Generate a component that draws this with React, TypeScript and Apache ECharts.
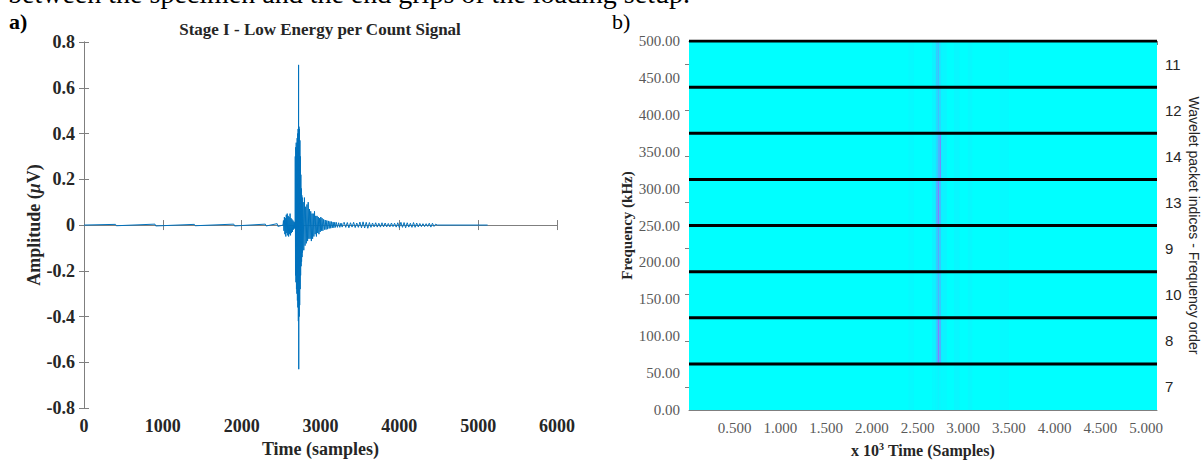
import React, { useEffect, useRef } from "react";
import * as echarts from "echarts";

// ---------- Data: panel a) time signal (sample, amplitude µV) ----------
const quietLead: [number, number][] = [
  [0, 0], [400, 0.003], [410, -0.003], [900, 0.004], [910, -0.004], [1400, 0.003], [1410, -0.003],
  [1900, 0.004], [1910, -0.004], [2300, 0.004], [2310, -0.004], [2450, 0.006], [2460, -0.006], [2525, 0],
];
const precursor: [number, number][] = [
  [2530, 0.02], [2536, -0.025], [2542, 0.035], [2548, -0.04], [2554, 0.03], [2560, -0.05], [2566, 0.045],
  [2572, -0.035], [2578, 0.05], [2584, -0.045], [2590, 0.04], [2596, -0.05], [2602, 0.035], [2608, -0.04],
  [2614, 0.05], [2620, -0.045], [2626, 0.03], [2632, -0.035], [2638, 0.025], [2644, -0.03], [2650, 0.02],
  [2656, -0.02], [2662, 0.015], [2668, -0.015], [2674, 0.012], [2678, -0.015],
];
const mainBurst: [number, number][] = [
  [2680, 0.3], [2683, -0.22], [2686, 0.34], [2689, -0.25], [2692, 0.36], [2695, -0.28], [2698, 0.33],
  [2701, -0.3], [2704, 0.38], [2707, -0.33], [2710, 0.4], [2713, -0.36], [2716, 0.42], [2719, -0.42],
  [2722, 0.7], [2724, -0.63], [2727, 0.43], [2730, -0.4], [2733, 0.42], [2736, -0.35], [2739, 0.37],
  [2742, -0.28], [2745, 0.3], [2748, -0.22], [2751, 0.22], [2754, -0.18], [2757, 0.16], [2760, -0.16],
  [2763, 0.13], [2766, -0.14], [2769, 0.12],
];
const coda: [number, number][] = [
  [2772, -0.12], [2780, 0.1], [2788, -0.11], [2796, 0.12], [2804, -0.09], [2812, 0.08], [2820, -0.08],
  [2828, 0.09], [2836, -0.07], [2844, 0.1], [2852, -0.06], [2860, 0.07], [2868, -0.06], [2876, 0.06],
  [2884, -0.07], [2892, 0.05], [2900, -0.06], [2908, 0.05], [2916, -0.05], [2924, 0.06], [2932, -0.04],
  [2940, 0.04], [2948, -0.05], [2956, 0.04], [2964, -0.035], [2972, 0.035], [2980, -0.04], [2988, 0.03],
  [2996, -0.03], [3004, 0.035], [3012, -0.025], [3020, 0.03], [3030, -0.025], [3040, 0.025], [3050, -0.02],
  [3060, 0.022], [3070, -0.02], [3080, 0.02], [3090, -0.018], [3100, 0.018], [3110, -0.015], [3120, 0.016],
  [3130, -0.014], [3140, 0.015], [3150, -0.012], [3160, 0.013], [3170, -0.012], [3180, 0.012], [3190, -0.01],
  [3200, 0.012], [3215, -0.01], [3230, 0.01], [3245, -0.01], [3260, 0.009], [3275, -0.009], [3290, 0.008],
];
const tail: [number, number][] = [
  [3300, 0.012], [3320, -0.01], [3340, 0.011], [3360, -0.012], [3380, 0.01], [3400, -0.009], [3420, 0.012],
  [3440, -0.011], [3460, 0.009], [3480, -0.01], [3500, 0.013], [3520, -0.012], [3540, 0.014], [3560, -0.013],
  [3580, 0.012], [3600, -0.014], [3620, 0.011], [3640, -0.01], [3660, 0.009], [3680, -0.008], [3700, 0.01],
  [3720, -0.009], [3740, 0.008], [3760, -0.009], [3780, 0.01], [3800, -0.008], [3820, 0.009], [3840, -0.008],
  [3860, 0.007], [3880, -0.008], [3900, 0.009], [3920, -0.007], [3940, 0.008], [3960, -0.009], [3980, 0.01],
  [4000, -0.011], [4020, 0.012], [4040, -0.01], [4060, 0.011], [4080, -0.012], [4100, 0.01], [4120, -0.009],
  [4140, 0.008], [4160, -0.01], [4180, 0.011], [4200, -0.01], [4220, 0.009], [4240, -0.008], [4260, 0.007],
  [4280, -0.007], [4300, 0.006], [4320, -0.007], [4340, 0.006], [4360, -0.006], [4380, 0.008], [4400, -0.009],
  [4420, 0.008], [4440, -0.006], [4460, 0.004], [4480, 0], [5120, 0],
];

// ---------- Data: panel b) wavelet packet spectrogram ----------
const totalSamples = 5120;
const bandEdges = [0, 62.5, 125, 187.5, 250, 312.5, 375, 437.5, 500]; // kHz
const bandLabels = ["7", "8", "10", "9", "13", "14", "12", "11"]; // bottom -> top
const stripeBins: [number, number][] = [[2660, 2700], [2700, 2720], [2720, 2740], [2740, 2760], [2760, 2820]];
const stripeLevels: number[][] = [
  [0.02, 0.03, 0.05, 0.03, 0.02],
  [0.05, 0.2, 0.5, 0.3, 0.05],
  [0.05, 0.15, 0.3, 0.2, 0.04],
  [0.05, 0.2, 0.35, 0.2, 0.04],
  [0.06, 0.3, 0.5, 0.25, 0.05],
  [0.05, 0.15, 0.3, 0.45, 0.06],
  [0.04, 0.15, 0.25, 0.15, 0.04],
  [0.05, 0.2, 0.25, 0.1, 0.03],
];
const faintColumns: [number, number, number][] = [
  [2400, 2460, 0.02], [2900, 2960, 0.03], [3050, 3100, 0.025], [3400, 3500, 0.02],
];

// ---------- Text ----------
const leftTitle = "Stage I - Low Energy per Count Signal";
const cutCaption = "between the specimen and the end grips of the loading setup.";

const serif = "'Liberation Serif', 'Times New Roman', serif";
const sans = "'Liberation Sans', Arial, sans-serif";

function coolColor(v: number): string {
  const r = Math.round(255 * v);
  const g = Math.round(255 * (1 - v));
  return `rgb(${r},${g},255)`;
}

export default function App() {
  const ref = useRef<HTMLDivElement>(null);
  useEffect(() => {
    document.body.style.margin = "0";
    if (!ref.current) return;
    const chart = echarts.init(ref.current, null, { renderer: "svg" });

    const signal = [...quietLead, ...precursor, ...mainBurst, ...coda, ...tail];

    const cells: number[][] = [];
    for (let b = 0; b < 8; b++) {
      cells.push([0, totalSamples, bandEdges[b], bandEdges[b + 1], 0]);
      faintColumns.forEach(([t0, t1, v]) => cells.push([t0, t1, bandEdges[b], bandEdges[b + 1], v]));
      stripeBins.forEach(([t0, t1], i) => cells.push([t0, t1, bandEdges[b], bandEdges[b + 1], stripeLevels[b][i]]));
    }

    const axisGray = "#7f7f7f";
    const lineSeries = bandEdges.slice(1).map((f) => ({
      type: "line",
      xAxisIndex: 2,
      yAxisIndex: 2,
      data: [[0, f], [totalSamples, f]],
      symbol: "none",
      silent: true,
      lineStyle: { color: "#000", width: 3 },
      z: 5,
    }));

    chart.setOption({
      animation: false,
      graphic: [
        { type: "text", x: 8, y: -21, style: { text: cutCaption, font: `28px ${serif}`, fill: "#000" } },
        { type: "text", x: 9, y: 10, style: { text: "a)", font: `bold 22px ${serif}`, fill: "#000" } },
        { type: "text", x: 612, y: 10, style: { text: "b)", font: `22px ${serif}`, fill: "#000" } },
        { type: "text", x: 320, y: 21, style: { text: leftTitle, font: `bold 17px ${serif}`, fill: "#262626", align: "center" } },
      ],
      grid: [
        { left: 84, top: 42, width: 473, height: 369 },
        { left: 689, top: 41, width: 468, height: 370 },
      ],
      xAxis: [
        {
          gridIndex: 0, type: "value", min: 0, max: 6000, interval: 1000, position: "bottom",
          axisLine: { lineStyle: { color: axisGray } },
          axisTick: { inside: true, length: 5, lineStyle: { color: axisGray } },
          splitLine: { show: false },
          axisLabel: { color: "#262626", fontFamily: serif, fontWeight: "bold", fontSize: 18, margin: 9, formatter: (v: number) => String(v) },
          name: "Time (samples)", nameLocation: "middle", nameGap: 30,
          nameTextStyle: { color: "#262626", fontFamily: serif, fontWeight: "bold", fontSize: 18 },
        },
        {
          gridIndex: 0, type: "value", min: 0, max: 6000, interval: 1000, position: "top",
          axisLine: { lineStyle: { color: axisGray } },
          axisTick: { inside: true, length: 5, lineStyle: { color: axisGray } },
          splitLine: { show: false }, axisLabel: { show: false },
        },
        {
          gridIndex: 1, type: "value", min: 0, max: totalSamples, interval: 500, position: "bottom",
          axisLine: { lineStyle: { color: axisGray } },
          axisTick: { inside: true, length: 4, lineStyle: { color: axisGray } },
          splitLine: { show: false },
          axisLabel: {
            color: "#595959", fontFamily: serif, fontSize: 15, margin: 10,
            showMinLabel: false, showMaxLabel: false,
            formatter: (v: number) => (v / 1000).toFixed(3),
          },
          name: "x 10{sup|3} Time (Samples)", nameLocation: "middle", nameGap: 31,
          nameTextStyle: {
            color: "#262626", fontFamily: serif, fontWeight: "bold", fontSize: 16,
            rich: { sup: { fontFamily: serif, fontWeight: "bold", fontSize: 10, verticalAlign: "top", padding: [0, 0, 8, 0] } },
          },
        },
        {
          gridIndex: 1, type: "value", min: 0, max: totalSamples, interval: 500, position: "top",
          axisLine: { lineStyle: { color: axisGray } },
          axisTick: { inside: true, length: 4, lineStyle: { color: axisGray } },
          splitLine: { show: false }, axisLabel: { show: false },
        },
      ],
      yAxis: [
        {
          gridIndex: 0, type: "value", min: -0.8, max: 0.8, interval: 0.2, position: "left",
          axisLine: { show: true, lineStyle: { color: axisGray } },
          axisTick: { show: true, inside: true, length: 5, lineStyle: { color: axisGray } },
          splitLine: { show: false },
          axisLabel: {
            color: "#262626", fontFamily: serif, fontWeight: "bold", fontSize: 18, margin: 9,
            formatter: (v: number) => (Math.abs(v) < 1e-9 ? "0" : v.toFixed(1)),
          },
          name: "Amplitude ({i|μ}V)", nameLocation: "middle", nameGap: 38, nameRotate: 90,
          nameTextStyle: {
            color: "#262626", fontFamily: serif, fontWeight: "bold", fontSize: 18,
            rich: { i: { fontFamily: serif, fontStyle: "italic", fontWeight: "bold", fontSize: 18 } },
          },
        },
        {
          gridIndex: 0, type: "value", min: -0.8, max: 0.8, interval: 0.2, position: "right",
          axisLine: { show: true, lineStyle: { color: axisGray } },
          axisTick: { show: true, inside: true, length: 5, lineStyle: { color: axisGray } },
          splitLine: { show: false }, axisLabel: { show: false },
        },
        {
          gridIndex: 1, type: "value", min: 0, max: 500, interval: 50, position: "left",
          axisLine: { show: true, lineStyle: { color: axisGray } },
          axisTick: { show: true, inside: true, length: 4, lineStyle: { color: axisGray } },
          splitLine: { show: false },
          axisLabel: { color: "#595959", fontFamily: serif, fontSize: 15, margin: 9, formatter: (v: number) => v.toFixed(2) },
          name: "Frequency (kHz)", nameLocation: "middle", nameGap: 53, nameRotate: 90,
          nameTextStyle: { color: "#262626", fontFamily: serif, fontWeight: "bold", fontSize: 15 },
        },
        {
          gridIndex: 1, type: "category", data: bandLabels, position: "right", boundaryGap: true,
          axisLine: { show: true, lineStyle: { color: axisGray } },
          axisTick: { show: true, inside: true, length: 4, alignWithLabel: true, lineStyle: { color: axisGray } },
          splitLine: { show: false },
          axisLabel: { color: "#262626", fontFamily: sans, fontSize: 15, margin: 8 },
          name: "Wavelet packet indices - Frequency order", nameLocation: "middle", nameGap: 30, nameRotate: -90,
          nameTextStyle: { color: "#262626", fontFamily: sans, fontSize: 14 },
        },
      ],
      series: [
        {
          type: "line", xAxisIndex: 0, yAxisIndex: 0, data: signal, symbol: "none", silent: true,
          lineStyle: { color: "#0072BD", width: 1 },
        },
        {
          type: "custom", xAxisIndex: 2, yAxisIndex: 2, data: cells, silent: true, clip: true,
          encode: { x: [0, 1], y: [2, 3] },
          renderItem: (_p: any, api: any) => {
            const a = api.coord([api.value(0), api.value(3)]);
            const b = api.coord([api.value(1), api.value(2)]);
            return {
              type: "rect",
              shape: { x: a[0], y: a[1], width: b[0] - a[0], height: b[1] - a[1] },
              style: { fill: coolColor(api.value(4)) },
            };
          },
        },
        ...lineSeries,
      ],
    });
    return () => chart.dispose();
  }, []);
  return <div ref={ref} style={{ width: 1204, height: 463 }} />;
}
